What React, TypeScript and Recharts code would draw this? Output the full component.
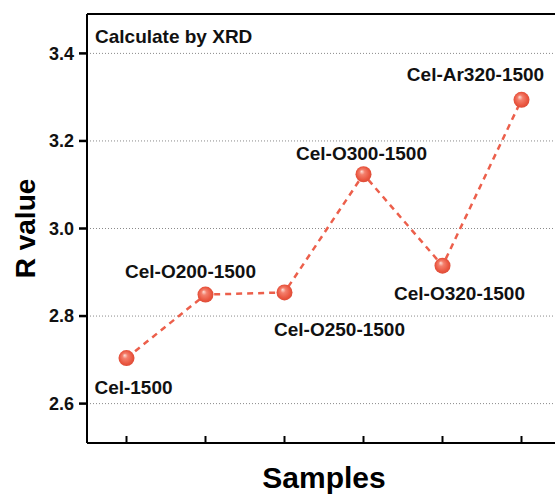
import { LineChart, Line, XAxis, YAxis, CartesianGrid, LabelList, ReferenceLine } from 'recharts'

const samples = ['Cel-1500', 'Cel-O200-1500', 'Cel-O250-1500', 'Cel-O300-1500', 'Cel-O320-1500', 'Cel-Ar320-1500']
const rValues = [2.704, 2.849, 2.854, 3.124, 2.915, 3.294]
const yTicks = [2.6, 2.8, 3.0, 3.2, 3.4]
const yDomain: [number, number] = [2.51, 3.49]

// where each sample name sits relative to its point (px)
const labelShift: [number, number][] = [
  [7, 29],
  [-15, -23],
  [55, 37],
  [-2, -21],
  [17, 28],
  [-46, -25],
]

const FONT = '"Liberation Sans", Arial, sans-serif'
const RED = '#ec5f4b'

const data = samples.map((name, i) => ({ name, r: rValues[i] }))

function SphereDot(props: any) {
  const { cx, cy, index } = props
  if (cx == null || cy == null) return null
  return <circle key={`dot-${index}`} cx={cx} cy={cy} r={8} fill="url(#sphere)" />
}

function SampleLabel(props: any) {
  const { x, y, value, index } = props
  const [dx, dy] = labelShift[index] ?? [0, -20]
  return (
    <text x={x + dx} y={y + dy} dy="0.35em" textAnchor="middle" fontFamily={FONT} fontWeight="bold" fontSize={19} fill="#111">
      {value}
    </text>
  )
}

// x ticks point into the plot
function InwardTick(props: any) {
  const { x, y } = props
  return <line x1={x} x2={x} y1={y} y2={y - 7} stroke="#000" strokeWidth={2} />
}

// y ticks point outward, label to the left
function YTick(props: any) {
  const { x, y, payload } = props
  return (
    <g>
      <rect x={x - 8} y={y - 1.25} width={8} height={2.5} fill="#000" />
      <text x={x - 13} y={y} dy="0.35em" textAnchor="end" fontFamily={FONT} fontWeight="bold" fontSize={18} fill="#111">
        {Number(payload.value).toFixed(1)}
      </text>
    </g>
  )
}

export default function App() {
  return (
    <div style={{ position: 'absolute', left: 0, top: 0, width: 555, height: 497, overflow: 'hidden', background: '#fff' }}>
      <LineChart width={580} height={497} data={data} margin={{ top: 14, right: 19, left: 0, bottom: 0 }}>
        <defs>
          <radialGradient id="sphere" cx="50%" cy="50%" r="55%" fx="38%" fy="32%">
            <stop offset="0%" stopColor="#fde0d8" />
            <stop offset="30%" stopColor="#f47f6c" />
            <stop offset="75%" stopColor="#e9553f" />
            <stop offset="100%" stopColor="#d84a36" />
          </radialGradient>
        </defs>
        <CartesianGrid vertical={false} stroke="#8a8a8a" strokeDasharray="1 2" />
        <XAxis
          dataKey="name"
          height={54}
          interval={0}
          padding={{ left: 39.5, right: 39.5 }}
          tick={<InwardTick />}
          tickSize={0}
          tickMargin={0}
          tickLine={false}
          stroke="#000"
          strokeWidth={2}
          axisLine={{ stroke: '#000', strokeWidth: 2 }}
          label={(p: any) => {
            const vb = p.viewBox
            return (
              <text x={vb.x + vb.width / 2} y={488} textAnchor="middle" fontFamily={FONT} fontWeight="bold" fontSize={30} fill="#000">
                Samples
              </text>
            )
          }}
        />
        <YAxis
          width={87}
          domain={yDomain}
          ticks={yTicks}
          interval={0}
          tickSize={0}
          tickMargin={0}
          tickLine={false}
          tick={<YTick />}
          stroke="#000"
          strokeWidth={2}
          axisLine={{ stroke: '#000', strokeWidth: 2 }}
          label={(p: any) => {
            const vb = p.viewBox
            const cy = vb.y + vb.height / 2
            return (
              <text
                x={35}
                y={cy}
                transform={`rotate(-90, 35, ${cy})`}
                textAnchor="middle"
                fontFamily={FONT}
                fontWeight="bold"
                fontSize={28}
                fill="#000"
              >
                R value
              </text>
            )
          }}
        />
        <ReferenceLine
          y={yDomain[1]}
          stroke="#000"
          strokeWidth={2}
          label={(p: any) => {
            const vb = p.viewBox
            return (
              <text x={vb.x + 8} y={vb.y + 29} fontFamily={FONT} fontWeight="bold" fontSize={19} fill="#111">
                Calculate by XRD
              </text>
            )
          }}
        />
        <Line
          type="linear"
          dataKey="r"
          stroke={RED}
          strokeWidth={2.5}
          strokeDasharray="6 5"
          dot={<SphereDot />}
          activeDot={false}
          isAnimationActive={false}
        >
          <LabelList dataKey="name" content={<SampleLabel />} />
        </Line>
      </LineChart>
    </div>
  )
}
